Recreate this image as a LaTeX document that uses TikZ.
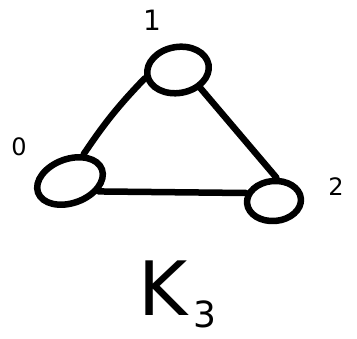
\documentclass[tikz,border=0pt]{standalone}
\usepackage{fontspec}
\setmainfont{DejaVu Sans}
\usepackage{tikz}
\usetikzlibrary{positioning, shapes.geometric}
\definecolor{tinta}{HTML}{000000}

\tikzset{
  vertice/.style={ellipse, draw=tinta, line width=6.5pt, inner sep=0pt},
  aresta/.style={tinta, line width=6.5pt, line cap=round},
  rotulo/.style={text=tinta, inner sep=0pt}
}

\begin{document}
\begin{tikzpicture}[x=1pt, y=1pt]
    \useasboundingbox (0,0) rectangle (357,339);
    \node[vertice, minimum width=62pt, minimum height=46pt, rotate=10] (n1) at (178,269) {};
    \node[vertice, minimum width=68pt, minimum height=44pt, rotate=20] (n0) at (70,158) {};
    \node[vertice, minimum width=54pt, minimum height=40pt, rotate=5] (n2) at (274,138) {};
    \draw[aresta] (n0.43) to[bend left=5] (n1.184);
    \draw[aresta] (n1.-49) -- (n2.79);
    \draw[aresta] (n0.-40) -- (n2.159);
    \node[rotulo, font=\fontsize{28}{28}\selectfont] (l1) at (152,319) {1};
    \node[rotulo, font=\fontsize{24}{24}\selectfont] (l0) at (19,192) {0};
    \node[rotulo, font=\fontsize{24}{24}\selectfont] (l2) at (336,152) {2};
    \node[rotulo, anchor=base west, font=\fontsize{75}{75}\selectfont] (lk) at (138,23)
      {K\kern6pt\raisebox{-12pt}{\fontsize{36}{36}\selectfont 3}};
  \end{tikzpicture}
\end{document}
